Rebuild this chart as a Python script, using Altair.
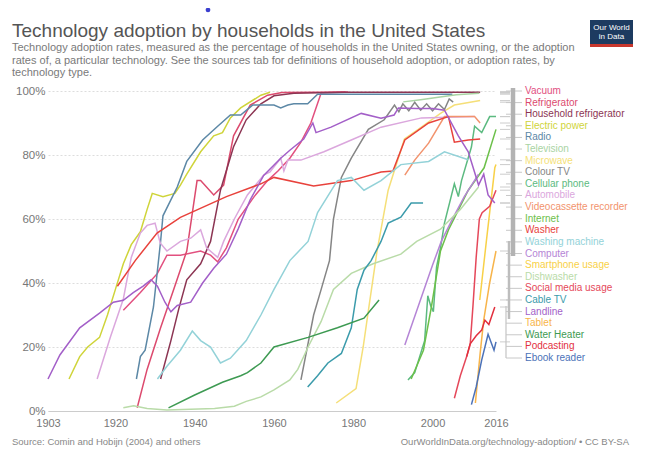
import altair as alt
import pandas as pd

FONT = "Liberation Sans"

names = ["Vacuum", "Refrigerator", "Household refrigerator", "Electric power", "Radio",
         "Television", "Microwave", "Colour TV", "Cellular phone", "Automobile",
         "Videocassette recorder", "Internet", "Washer", "Washing machine", "Computer",
         "Smartphone usage", "Dishwasher", "Social media usage", "Cable TV", "Landline",
         "Tablet", "Water Heater", "Podcasting", "Ebook reader"]

colors = ["#e2507f", "#dc4a6e", "#8c3553", "#cfd43a", "#5c88a6",
          "#a9d4a3", "#f5df78", "#858585", "#5cba80", "#dba7dd",
          "#f2936d", "#6cc04a", "#e8423c", "#93d2d8", "#b585d6",
          "#f8d148", "#b9dba8", "#e5485a", "#3b9bab", "#a35fc8",
          "#f7b44a", "#3d9a52", "#e2303e", "#4c72b8"]

vacuum = [(1922, 31.5), (1926.3, 37), (1930.6, 43), (1933, 48.7), (1936.4, 48.7), (1941.5, 50),
          (1944, 48.7), (1945.8, 46.6), (1948, 51), (1951, 60), (1955, 67), (1958.4, 72), (1961, 75),
          (1964, 79), (1966.8, 84), (1969.3, 90), (1971.9, 99.4), (1978.7, 99.7)]
refrigerator = [(1925.5, 1), (1928, 13), (1931.4, 26), (1934.7, 38), (1938, 50), (1940.6, 72),
                (1941.5, 72), (1944.8, 67.5), (1947.3, 70.6), (1949.8, 86), (1954, 95.6),
                (1958.4, 98.7), (1962, 99.5), (1978, 99.7)]
household_refrigerator = [(1931.4, 10), (1934, 22), (1936, 32), (1938, 41), (1941.5, 46), (1944, 53),
                          (1946.5, 69), (1949.8, 82.6), (1953, 91), (1956.7, 96), (1960, 98.5),
                          (1965, 99.3), (1978, 99.6), (2012, 99.6)]
electric_power = [(1908.3, 10), (1911, 17), (1913, 20), (1916, 23), (1918, 30), (1920, 38), (1922, 46),
                  (1924, 52), (1926.3, 56), (1928, 63), (1929.3, 68), (1932, 67), (1935, 68), (1936.4, 70.6),
                  (1938, 74), (1941.5, 81), (1944.8, 86), (1947, 87), (1949, 91.6), (1951.6, 94.7),
                  (1956.7, 98.7), (1959, 99.6)]
radio = [(1925.3, 10), (1926.3, 17), (1927.5, 19), (1929.6, 32.5), (1931.4, 53), (1932, 61),
         (1935.6, 70), (1938, 78), (1942, 84.7), (1945.8, 89), (1949, 92.5), (1951.6, 92.5),
         (1954.6, 95.6), (1960, 95.6), (1961.7, 94.7), (1963.5, 95.6), (1965, 96), (1968.5, 96),
         (1971, 99), (2005, 99)]
television = [(1992.6, 96.6), (1997, 97.3), (2001, 98), (2006, 98.8), (2011.8, 99.3)]
microwave = [(1975.7, 2.5), (1980.7, 7), (1982.5, 20), (1984, 33), (1986, 50), (1988.8, 69),
             (1992.9, 85), (1996.4, 88), (2002, 93), (2005.5, 95.6), (2012, 97)]
colour_tv = [(1966.8, 9.7), (1970, 30), (1971.9, 38), (1974, 47), (1975, 60), (1977, 73),
             (1979.5, 79), (1983.8, 88), (1987.8, 91), (1990.4, 95.6), (1991.5, 93.5), (1992.5, 96),
             (1994, 93.8), (1995.5, 96.5), (1997, 94), (1998.5, 96), (2000, 93.8), (2001.5, 96),
             (2003, 94.2), (2004.2, 97.5), (2005.2, 96.5)]
cellular_phone = [(1993.8, 9.7), (1995.5, 12), (1998, 22), (1998.8, 36), (1999.5, 33), (2000.2, 31),
                  (2001, 45), (2002, 51), (2003, 58.7), (2005.5, 71), (2006.5, 67), (2007.3, 72),
                  (2009.8, 82.5), (2010.6, 89), (2012.4, 87), (2014.4, 92), (2016, 92)]
automobile = [(1915.4, 10), (1918.7, 23), (1922, 35), (1924, 48), (1926.3, 55.6), (1928, 58),
              (1930, 58.7), (1931.3, 52.5), (1933, 50), (1936.4, 53), (1939, 54), (1941.5, 56.6),
              (1943, 51), (1945.8, 48), (1947.3, 53), (1950, 60), (1953.3, 67.5), (1957.4, 73.7),
              (1959, 74.7), (1961.7, 79), (1962.5, 75), (1963.5, 78.4), (1966.8, 78.4), (1972.6, 81),
              (1979.5, 84.7), (1987, 88.7), (1997.2, 91.6), (2010.6, 92)]
vcr = [(1993, 73.7), (1995.5, 78.4), (1999, 83.7), (2003, 92), (2010.6, 92), (2012, 90)]
internet = [(1994.6, 10), (1997.7, 19), (1999.7, 32.5), (2002, 50), (2004, 56.6), (2009, 69),
            (2013, 76), (2016, 88)]
washer = [(1920.5, 39), (1925, 47), (1930.5, 55.6), (1936.4, 60.5), (1948, 67), (1956.7, 71),
          (1960, 73), (1970, 70.3), (1979.5, 72), (1987, 74.7), (1990, 75), (1993, 84.7),
          (1999, 90), (2004, 92), (2005.5, 84), (2009, 84.7), (2012, 85)]
washing_machine = [(1930.6, 10), (1933, 14), (1936.4, 19), (1939.4, 25), (1941.5, 22), (1944, 20),
                   (1946.5, 15), (1949, 16.5), (1953, 22), (1956.7, 30), (1960, 38), (1964, 47),
                   (1968.6, 53), (1971, 62), (1976, 72), (1979.5, 73), (1982.7, 69), (1987, 72),
                   (1992, 77), (1999, 78), (2003, 81), (2009, 78.5)]
computer = [(1993, 20.6), (2000, 45.6), (2002.2, 53), (2005, 60), (2008, 67), (2011.6, 74)]
smartphone = [(2011.9, 34.7), (2013.6, 53.4), (2015.7, 76), (2016, 77)]
dishwasher = [(1922, 1), (1924.6, 1.6), (1928, 0.8), (1933, 0.3), (1945, 0.8), (1950, 1.5),
              (1953, 3), (1956.7, 4.4), (1960, 6.6), (1964, 9.7), (1966, 13), (1968.6, 20),
              (1971.9, 28), (1975, 38), (1979.5, 43), (1985, 46), (1992, 49), (1996, 53),
              (2002, 56.8), (2007, 63), (2011.6, 70)]
social_media = [(2005.5, 4), (2007, 11), (2008.6, 17), (2009.5, 21), (2010.2, 33), (2011, 48),
                (2011.8, 60), (2012.5, 62), (2014.4, 64), (2016, 69)]
cable_tv = [(1968.5, 7.5), (1971, 11), (1973.6, 15), (1977, 18), (1979.5, 26), (1981, 38),
            (1982.7, 44), (1984.5, 47), (1987, 53), (1988.8, 58.7), (1992, 60.6), (1994.6, 65),
            (1997.6, 65)]
landline = [(1903, 10), (1906, 17.5), (1911, 26), (1916, 30.6), (1919.5, 34), (1922, 34.6),
            (1924.5, 37), (1927, 39), (1929, 41), (1930.6, 39), (1932.5, 34), (1934, 31),
            (1935.6, 33), (1939, 34), (1942, 40), (1944.8, 44.6), (1948, 49), (1951, 57), (1954, 66),
            (1957.4, 73.6), (1961.7, 79), (1964, 81.5), (1967.5, 85), (1969.8, 90), (1970.6, 87),
            (1974.4, 88.7), (1982, 93), (1987, 91.5), (1990.3, 92.5), (1991.4, 94.7), (1996, 94.5),
            (2000, 94.5), (2003, 94), (2006.5, 86), (2009, 81), (2011.6, 70.6), (2012.9, 74),
            (2014, 67.5), (2015.7, 65)]
tablet = [(2010.8, 2.5), (2012, 18), (2012.9, 28.4), (2014.4, 40), (2016, 50)]
water_heater = [(1933.4, 1), (1940, 5), (1947, 9), (1951.6, 11), (1953.3, 12), (1956.7, 15),
                (1960, 20), (1968.6, 23), (1976, 26), (1982.7, 29), (1986.5, 34.7)]
podcasting = [(2008.6, 17), (2009.5, 21), (2011, 23.5), (2012.4, 25.3), (2013.2, 28.4),
              (2014.2, 27), (2015.7, 32.5)]
ebook_reader = [(2009.8, 2), (2011, 7.5), (2012.4, 16), (2014, 24), (2015.5, 19), (2016, 21.6)]

series = [vacuum, refrigerator, household_refrigerator, electric_power, radio, television,
          microwave, colour_tv, cellular_phone, automobile, vcr, internet, washer,
          washing_machine, computer, smartphone, dishwasher, social_media, cable_tv,
          landline, tablet, water_heater, podcasting, ebook_reader]

x_ticks = [1903, 1920, 1940, 1960, 1980, 2000, 2016]
y_ticks = [0, 20, 40, 60, 80, 100]

rows = []
for n, pts in zip(names, series):
    for yr, v in pts:
        rows.append({"tech": n, "year": yr, "share": v})
df = pd.DataFrame(rows)
ends = pd.DataFrame([{"tech": n, "share": pts[-1][1]} for n, pts in zip(names, series)])
labels = pd.DataFrame({"tech": names})
one = pd.DataFrame({"a": [0]})

color_enc = alt.Color("tech:N", scale=alt.Scale(domain=names, range=colors), legend=None)
label_y = alt.Y("tech:N", scale=alt.Scale(type="point", domain=names, range=[0, 267], padding=0),
                axis=None)

lines = alt.Chart(df).mark_line(strokeWidth=1.5, clip=False).encode(
    x=alt.X("year:Q", scale=alt.Scale(domain=[1903, 2016], nice=False, zero=False),
            axis=alt.Axis(values=x_ticks, format="d", title=None, ticks=False, grid=False,
                          domain=True, domainColor="#cccccc", labelFontSize=11,
                          labelColor="#777777", labelPadding=6, labelFlush=False,
                          labelOverlap=False)),
    y=alt.Y("share:Q", scale=alt.Scale(domain=[0, 100], nice=False),
            axis=alt.Axis(values=y_ticks, labelExpr="datum.value + '%'", title=None,
                          ticks=False, domain=False, gridColor="#dddddd", gridDash=[2, 2],
                          labelPadding=3, labelFontSize=11.5, labelColor="#777777")),
    color=color_enc,
    detail="tech:N",
)

stubs = alt.Chart(ends).mark_rule(color="#cccccc", strokeWidth=1).encode(
    x=alt.value(452), x2=alt.value(462),
    y=alt.Y("share:Q", scale=alt.Scale(domain=[0, 100], nice=False), axis=None),
)

connectors = alt.Chart(labels).mark_rule(color="#c8c8c8", strokeWidth=1).encode(
    x=alt.value(458), x2=alt.value(474), y=label_y)

bar1 = alt.Chart(one).mark_rule(color="#b3b3b3", strokeWidth=4.5).encode(
    x=alt.value(465), y=alt.value(-3), y2=alt.value(165))
bar2 = alt.Chart(one).mark_rule(color="#bdbdbd", strokeWidth=2.5).encode(
    x=alt.value(461), y=alt.value(150), y2=alt.value(228))
bar3 = alt.Chart(one).mark_rule(color="#c4c4c4", strokeWidth=1.2).encode(
    x=alt.value(458), y=alt.value(215), y2=alt.value(267))

label_text = alt.Chart(labels).mark_text(align="left", baseline="middle", fontSize=10,
                                         font=FONT).encode(
    x=alt.value(477), y=label_y, text="tech:N", color=color_enc)


def txt(s, x, y, size, color, align="left", baseline="alphabetic"):
    return alt.Chart(pd.DataFrame({"t": [s]})).mark_text(
        align=align, baseline=baseline, fontSize=size, color=color, font=FONT).encode(
        x=alt.value(x), y=alt.value(y), text="t:N")


title = txt("Technology adoption by households in the United States", -36, -54, 19, "#555555")
sub1 = txt("Technology adoption rates, measured as the percentage of households in the United States owning, or the adoption",
           -36, -40, 11, "#7a7a7a")
sub2 = txt("rates of, a particular technology. See the sources tab for definitions of household adoption, or adoption rates, by",
           -36, -27.5, 11, "#7a7a7a")
sub3 = txt("technology type.", -36, -15, 11, "#7a7a7a")
foot1 = txt("Source: Comin and Hobijn (2004) and others", -36, 354, 9.5, "#888888")
foot2 = txt("OurWorldInData.org/technology-adoption/ • CC BY-SA", 581, 354, 9.5, "#888888",
            align="right")

logo = alt.Chart(one).mark_rect(color="#1d3b60").encode(
    x=alt.value(542), x2=alt.value(585), y=alt.value(-71), y2=alt.value(-47))
logo_red = alt.Chart(one).mark_rect(color="#c8372d").encode(
    x=alt.value(542), x2=alt.value(585), y=alt.value(-47), y2=alt.value(-44))
logo1 = txt("Our World", 563.5, -61, 8, "#ffffff", align="center")
logo2 = txt("in Data", 563.5, -52, 8, "#ffffff", align="center")

dot = alt.Chart(one).mark_circle(size=22, color="#3b3fcf", opacity=1).encode(
    x=alt.value(160), y=alt.value(-81))

chart = alt.layer(
    lines, stubs, connectors, bar1, bar2, bar3, label_text,
    title, sub1, sub2, sub3, foot1, foot2, logo, logo_red, logo1, logo2, dot
).resolve_scale(y="independent").properties(
    width=448, height=320,
    padding={"left": 40, "top": 83, "right": 144, "bottom": 44},
    autosize=alt.AutoSizeParams(type="none"),
).configure(font=FONT).configure_view(stroke=None)

chart.save("out.html", embed_options={"renderer": "svg", "actions": False})
